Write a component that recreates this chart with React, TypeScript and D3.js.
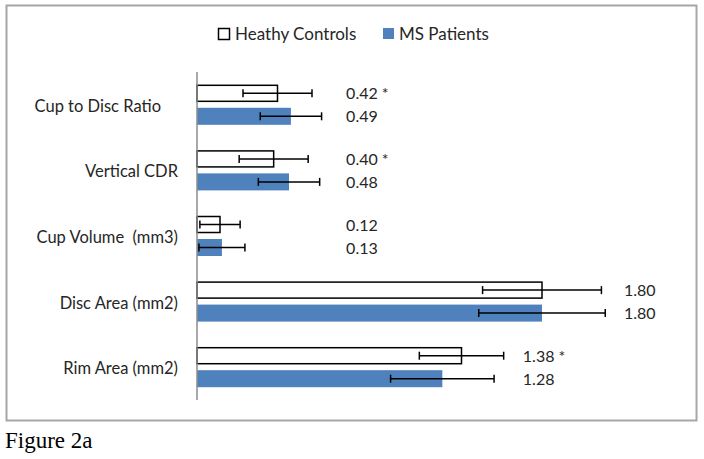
import * as d3 from 'd3';

// measures shown on the chart, top to bottom
const categories = ['Cup to Disc Ratio', 'Vertical CDR', 'Cup Volume  (mm3)', 'Disc Area (mm2)', 'Rim Area (mm2)'];
const seriesNames = ['Heathy Controls', 'MS Patients'];
const healthyMean = [0.42, 0.40, 0.12, 1.80, 1.38];
const healthyErr = [0.18, 0.18, 0.105, 0.31, 0.22];
const msMean = [0.49, 0.48, 0.13, 1.80, 1.28];
const msErr = [0.16, 0.16, 0.12, 0.33, 0.27];
const healthyLabels = ['0.42 *', '0.40 *', '0.12', '1.80', '1.38 *'];
const msLabels = ['0.49', '0.48', '0.13', '1.80', '1.28'];
// where the value labels sit, in data units
const labelPos = [0.778, 0.778, 0.778, 2.228, 1.70];

const W = 704;
const H = 459;
const font = 'Lato, "Open Sans", sans-serif';
const textColor = '#262626';
const blue = '#4F81BD';

export default function App() {
  const x = d3.scaleLinear().domain([0, 1.8]).range([197, 542]);
  const y = d3.scaleBand<string>().domain(categories).range([72, 400]);
  const inner = d3.scaleBand<string>().domain(seriesNames).range([-20, 20]).paddingInner(0.26);
  const bw = inner.bandwidth();

  const series = [
    { name: seriesNames[0], mean: healthyMean, err: healthyErr, labels: healthyLabels, fill: '#ffffff', stroke: '#000000' },
    { name: seriesNames[1], mean: msMean, err: msErr, labels: msLabels, fill: blue, stroke: 'none' },
  ];

  return (
    <div style={{ position: 'absolute', left: 0, top: 0 }}>
      <svg width={W} height={H} style={{ display: 'block', background: '#fff' }}>
        <rect x={6.5} y={5.5} width={690} height={415} fill="#fff" stroke="#a6a6a6" strokeWidth={2} />

        {/* legend */}
        <g fontFamily={font} fontSize={17} fill={textColor}>
          <rect x={218.5} y={28.5} width={11} height={11} fill="#fff" stroke="#000" strokeWidth={1.5} />
          <text x={235} y={40}>{seriesNames[0]}</text>
          <rect x={383} y={28} width={11} height={11} fill={blue} />
          <text x={399} y={40}>{seriesNames[1]}</text>
        </g>

        {categories.map((c, i) => {
          const cy = (y(c) ?? 0) + y.bandwidth() / 2;
          return (
            <g key={c}>
              <text
                x={i === 0 ? 161 : 178}
                y={cy}
                dy="0.42em"
                textAnchor="end"
                fontFamily={font}
                fontSize={16.5}
                fill={textColor}
                style={{ whiteSpace: 'pre' }}
              >
                {c}
              </text>
              {series.map((s) => {
                const by = cy + (inner(s.name) ?? 0);
                const mid = by + bw / 2;
                const lo = x(s.mean[i] - s.err[i]);
                const hi = x(s.mean[i] + s.err[i]);
                return (
                  <g key={s.name}>
                    <rect
                      x={x(0)}
                      y={s.stroke === 'none' ? by : by + 0.5}
                      width={x(s.mean[i]) - x(0)}
                      height={s.stroke === 'none' ? bw : bw - 1}
                      fill={s.fill}
                      stroke={s.stroke}
                      strokeWidth={1.5}
                    />
                    <line x1={lo} x2={hi} y1={mid} y2={mid} stroke="#000" strokeWidth={1.5} />
                    <line x1={lo} x2={lo} y1={mid - 4} y2={mid + 4} stroke="#000" strokeWidth={1.5} />
                    <line x1={hi} x2={hi} y1={mid - 4} y2={mid + 4} stroke="#000" strokeWidth={1.5} />
                    <text x={x(labelPos[i])} y={mid} dy="0.38em" fontFamily={font} fontSize={16} fill={textColor} style={{ whiteSpace: 'pre' }}>
                      {s.labels[i]}
                    </text>
                  </g>
                );
              })}
            </g>
          );
        })}

        <line x1={x(0)} x2={x(0)} y1={72} y2={400} stroke="#8c8c8c" strokeWidth={1.5} />

        <text x={5} y={448} fontFamily='"Liberation Serif", "Times New Roman", serif' fontSize={23} fill="#000">
          Figure 2a
        </text>
      </svg>
    </div>
  );
}
